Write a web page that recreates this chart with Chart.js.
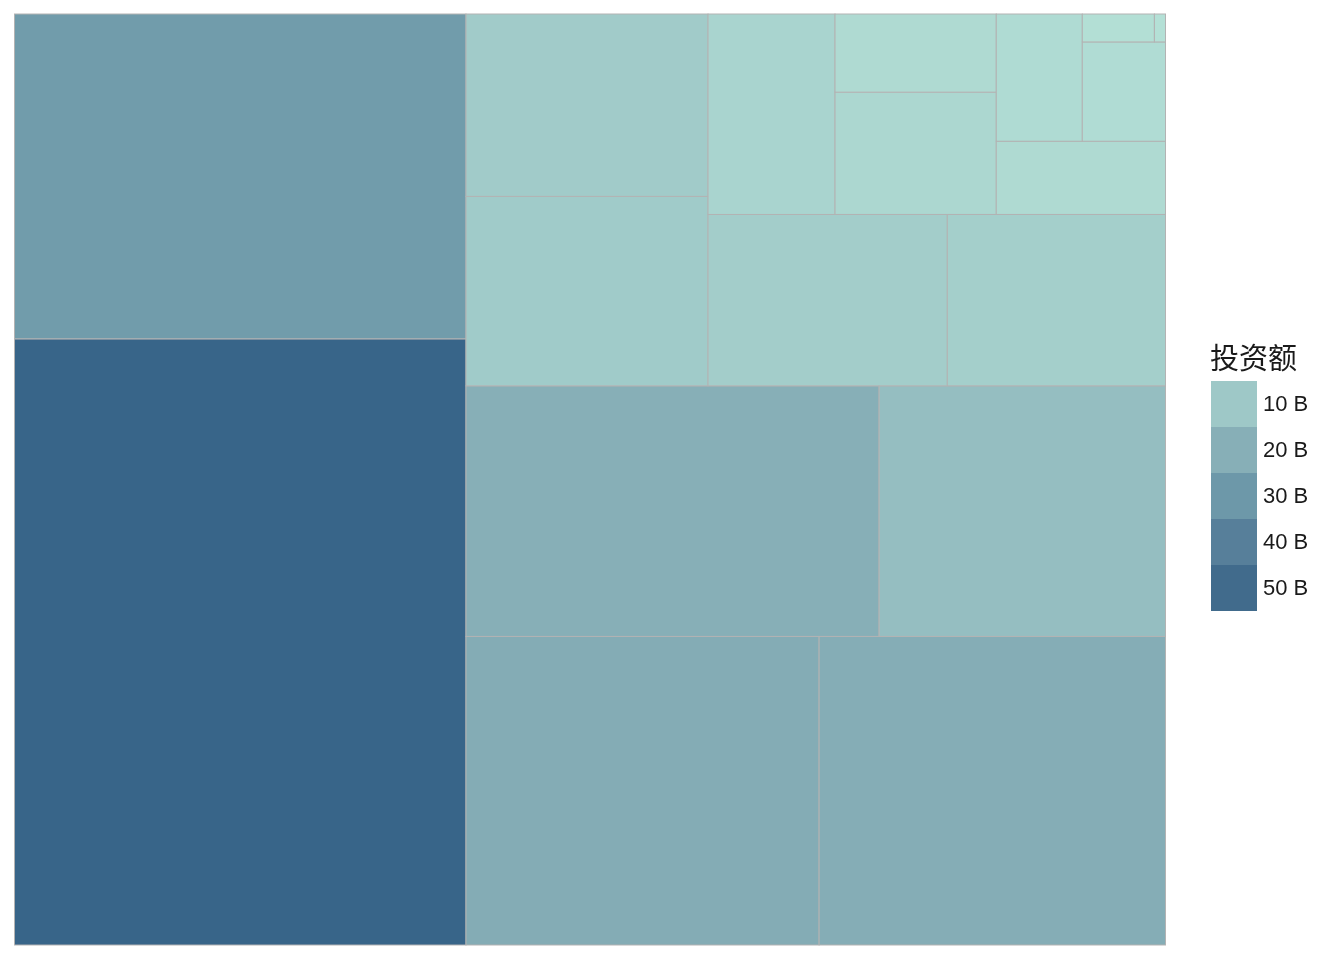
<!DOCTYPE html>
<html>
<head>
<meta charset="utf-8">
<script src="https://cdn.jsdelivr.net/npm/chart.js@4/dist/chart.umd.min.js"></script>
<style>
  body { margin: 0; background: #fff; }
  #wrap { position: relative; width: 1344px; height: 960px; }
  #legendTitle { position: absolute; left: 1210px; top: 340px; font: 29px "Noto Sans CJK SC", sans-serif; line-height: 32px; color: #1a1a1a; }
  .key { position: absolute; left: 1211px; width: 46px; height: 46px; }
  .keyLabel { position: absolute; left: 1263px; height: 46px; font: 22px "Liberation Sans", Arial, sans-serif; line-height: 46px; color: #1a1a1a; }
</style>
</head>
<body>
<div id="wrap">
  <canvas id="chart" width="1344" height="960"></canvas>
  <div id="legendTitle">投资额</div>
</div>
<script>
// investment per cell, billions
const investment = [53.0, 28.4, 21.1, 20.7, 20.05, 13.9, 8.88, 8.55, 7.94, 7.24, 4.93, 3.82, 2.44, 2.40, 2.12, 1.60, 0.39, 0.06];
const legendValues = [10, 20, 30, 40, 50];
const legendLabels = ['10 B', '20 B', '30 B', '40 B', '50 B'];

// colour scale
const stopValues = [0, 10, 20, 30, 40, 50, 53];
const stopColors = ['#b4e0d6', '#9ec8c7', '#87afb7', '#6d98a9', '#577f9a', '#416b8c', '#386589'];

function hexToRgb(h) {
	return [1, 3, 5].map(i => parseInt(h.substr(i, 2), 16));
}

function colorFor(v) {
	let i = 0;
	while (i < stopValues.length - 2 && v > stopValues[i + 1]) i++;
	let t = (v - stopValues[i]) / (stopValues[i + 1] - stopValues[i]);
	t = Math.max(0, Math.min(1, t));
	const a = hexToRgb(stopColors[i]), b = hexToRgb(stopColors[i + 1]);
	const c = a.map((x, k) => Math.round(x + (b[k] - x) * t));
	return 'rgb(' + c.join(',') + ')';
}

// squarified layout in a unit square, y going up
function worst(row, side) {
	const s = row.reduce((acc, it) => acc + it.a, 0);
	const t = s / side;
	let w = 0;
	row.forEach(it => {
		const r = t * t / it.a;
		w = Math.max(w, r, 1 / r);
	});
	return w;
}

function squarify(values) {
	const total = values.reduce((a, b) => a + b, 0);
	const items = values.map(v => ({ v: v, a: v / total })).sort((p, q) => q.a - p.a);
	let x0 = 0, y0 = 0, x1 = 1, y1 = 1;
	const cells = [];
	let idx = 0;
	while (idx < items.length) {
		const w = x1 - x0, h = y1 - y0;
		const horiz = w < h;
		const side = horiz ? w : h;
		const row = [items[idx]];
		let j = idx + 1;
		while (j < items.length && worst(row.concat([items[j]]), side) <= worst(row, side)) {
			row.push(items[j]);
			j++;
		}
		const s = row.reduce((acc, it) => acc + it.a, 0);
		const t = s / side;
		let pos = horiz ? x0 : y0;
		row.forEach(it => {
			const len = it.a / t;
			if (horiz) cells.push({ v: it.v, x0: pos, x1: pos + len, y0: y0, y1: y0 + t });
			else cells.push({ v: it.v, x0: x0, x1: x0 + t, y0: pos, y1: pos + len });
			pos += len;
		});
		if (horiz) y0 += t; else x0 += t;
		idx = j;
	}
	return cells;
}

const cells = squarify(investment);

const treemapPlugin = {
	id: 'treemap',
	beforeDatasetsDraw(chart) {
		const ctx = chart.ctx;
		const xs = chart.scales.x, ys = chart.scales.y;
		ctx.save();
		cells.forEach(c => {
			const l = xs.getPixelForValue(c.x0), r = xs.getPixelForValue(c.x1);
			const t = ys.getPixelForValue(c.y1), b = ys.getPixelForValue(c.y0);
			ctx.fillStyle = colorFor(c.v);
			ctx.fillRect(l, t, r - l, b - t);
			ctx.strokeStyle = '#b3b3b3';
			ctx.lineWidth = 1;
			ctx.strokeRect(l, t, r - l, b - t);
		});
		ctx.restore();
	}
};

new Chart(document.getElementById('chart'), {
	type: 'scatter',
	data: { datasets: [{ data: [] }] },
	options: {
		responsive: false,
		animation: false,
		layout: { padding: { left: 14.5, top: 14, right: 178.5, bottom: 15 } },
		scales: {
			x: { type: 'linear', min: 0, max: 1, display: false },
			y: { type: 'linear', min: 0, max: 1, display: false }
		},
		plugins: { legend: { display: false }, tooltip: { enabled: false } }
	},
	plugins: [treemapPlugin]
});

// legend keys
const wrap = document.getElementById('wrap');
legendValues.forEach((v, i) => {
	const key = document.createElement('div');
	key.className = 'key';
	key.style.top = (381 + i * 46) + 'px';
	key.style.background = colorFor(v);
	wrap.appendChild(key);
	const lab = document.createElement('div');
	lab.className = 'keyLabel';
	lab.style.top = (381 + i * 46) + 'px';
	lab.textContent = legendLabels[i];
	wrap.appendChild(lab);
});
</script>
</body>
</html>
